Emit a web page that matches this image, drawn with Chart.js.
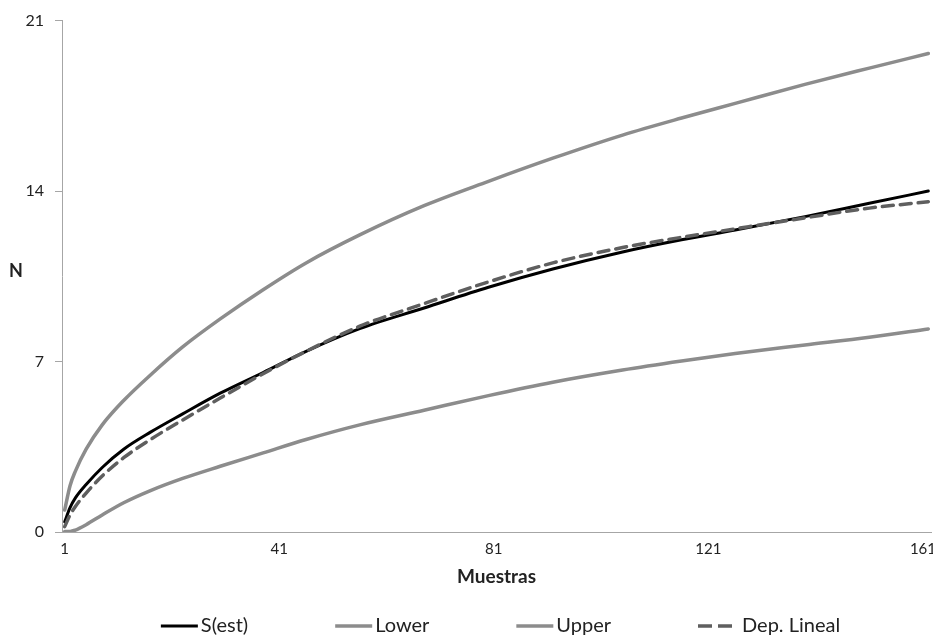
<!DOCTYPE html>
<html>
<head>
<meta charset="utf-8">
<script src="https://cdn.jsdelivr.net/npm/chart.js@4.4.1/dist/chart.umd.min.js"></script>
<style>
  html, body { margin: 0; padding: 0; background: #fff; }
  #wrap { width: 933px; height: 636px; }
</style>
</head>
<body>
<div id="wrap"><canvas id="curvaChart" width="933" height="636"></canvas></div>
<script>
// Datos
const muestras = [1, 2, 3, 5, 8, 12, 17, 23, 30, 38, 46, 56, 68, 80, 92, 105, 116, 126, 139, 151, 162];
const sEst     = [0.42, 1.0, 1.4, 1.95, 2.65, 3.4, 4.1, 4.85, 5.7, 6.55, 7.42, 8.35, 9.2, 10.05, 10.8, 11.5, 12.0, 12.4, 12.95, 13.5, 14.0];
const lower    = [0.02, 0.02, 0.08, 0.3, 0.7, 1.2, 1.7, 2.2, 2.7, 3.25, 3.8, 4.4, 5.0, 5.6, 6.15, 6.65, 7.02, 7.33, 7.68, 8.0, 8.34];
const upper    = [0.9, 1.9, 2.5, 3.4, 4.4, 5.4, 6.45, 7.6, 8.75, 9.95, 11.05, 12.2, 13.4, 14.4, 15.35, 16.3, 17.0, 17.6, 18.38, 19.05, 19.65];
const depLin   = [0.22, 0.7, 1.05, 1.6, 2.3, 3.05, 3.8, 4.6, 5.5, 6.5, 7.42, 8.45, 9.38, 10.27, 11.05, 11.68, 12.1, 12.45, 12.9, 13.3, 13.56];
const xTicks   = [1, 41, 81, 121, 161];
const yTicks   = [0, 7, 14, 21];
const nombres  = ['S(est)', 'Lower', 'Upper', 'Dep. Lineal'];

const FONT = 'Lato, "Liberation Sans", sans-serif';
const toPts = arr => arr.map((v, i) => ({x: muestras[i], y: v}));

// leyenda y titulo "N" sin rotar
const textoExtra = {
    id: 'textoExtra',
    afterDraw(chart) {
        const ctx = chart.ctx;
        const area = chart.chartArea;
        ctx.save();
        ctx.fillStyle = '#222';
        ctx.font = 'bold 18px ' + FONT;
        ctx.textAlign = 'center';
        ctx.textBaseline = 'middle';
        ctx.fillText('N', 16, 271);

        ctx.font = '20px ' + FONT;
        ctx.textAlign = 'left';
        const lineLen = 37, textGap = 3, itemGap = 87, y = 626;
        const items = chart.data.datasets.map(ds => ({ds, w: ctx.measureText(ds.label).width}));
        const total = items.reduce((s, it) => s + lineLen + textGap + it.w, 0) + itemGap * (items.length - 1);
        let x = (area.left + area.right) / 2 - total / 2 + 2;
        items.forEach(it => {
            ctx.beginPath();
            ctx.setLineDash(it.ds.borderDash ? [14, 6] : []);
            ctx.lineWidth = it.ds.borderWidth;
            ctx.strokeStyle = it.ds.borderColor;
            ctx.lineCap = 'butt';
            ctx.moveTo(x, y);
            ctx.lineTo(x + (it.ds.borderDash ? 34 : lineLen), y);
            ctx.stroke();
            ctx.setLineDash([]);
            ctx.fillStyle = '#222';
            const tx = x + lineLen + textGap + (it.ds.borderDash ? 4 : 0);
            ctx.fillText(it.ds.label, tx, y);
            x = tx + it.w + itemGap;
        });
        ctx.restore();
    }
};

const ctx = document.getElementById('curvaChart').getContext('2d');
new Chart(ctx, {
    type: 'line',
    data: {
        datasets: [
            {label: nombres[0], data: toPts(sEst), borderColor: '#000000', borderWidth: 3, order: 1},
            {label: nombres[1], data: toPts(lower), borderColor: '#8c8c8c', borderWidth: 3.5, order: 2},
            {label: nombres[2], data: toPts(upper), borderColor: '#8c8c8c', borderWidth: 3.5, order: 2},
            {label: nombres[3], data: toPts(depLin), borderColor: '#5f5f5f', borderWidth: 3.5, borderDash: [11, 7], order: 0}
        ]
    },
    options: {
        responsive: false,
        animation: false,
        cubicInterpolationMode: 'monotone',
        elements: {point: {radius: 0}, line: {borderCapStyle: 'round', fill: false}},
        layout: {padding: {top: 19, right: 2, left: 0, bottom: 44}},
        plugins: {legend: {display: false}, tooltip: {enabled: false}},
        scales: {
            x: {
                type: 'linear',
                min: 0.5,
                max: 162.5,
                afterBuildTicks: s => { s.ticks = xTicks.map(v => ({value: v})); },
                afterFit: s => { s.height = 60; s.paddingLeft = 0; s.paddingRight = 0; },
                grid: {display: false, drawTicks: false},
                border: {display: true, color: '#a6a6a6', width: 1},
                ticks: {color: '#222', font: {family: FONT, size: 15}, padding: 8, maxRotation: 0},
                title: {display: true, text: 'Muestras', color: '#222', font: {family: FONT, size: 19, weight: 'bold'}, padding: {top: 5}}
            },
            y: {
                min: 0,
                max: 21,
                afterBuildTicks: s => { s.ticks = yTicks.map(v => ({value: v})); },
                afterFit: s => { s.width = 62; },
                grid: {drawOnChartArea: false, tickLength: 7, color: '#a6a6a6'},
                border: {display: true, color: '#a6a6a6', width: 1},
                ticks: {color: '#222', font: {family: FONT, size: 16}, padding: 11}
            }
        }
    },
    plugins: [textoExtra]
});
</script>
</body>
</html>
